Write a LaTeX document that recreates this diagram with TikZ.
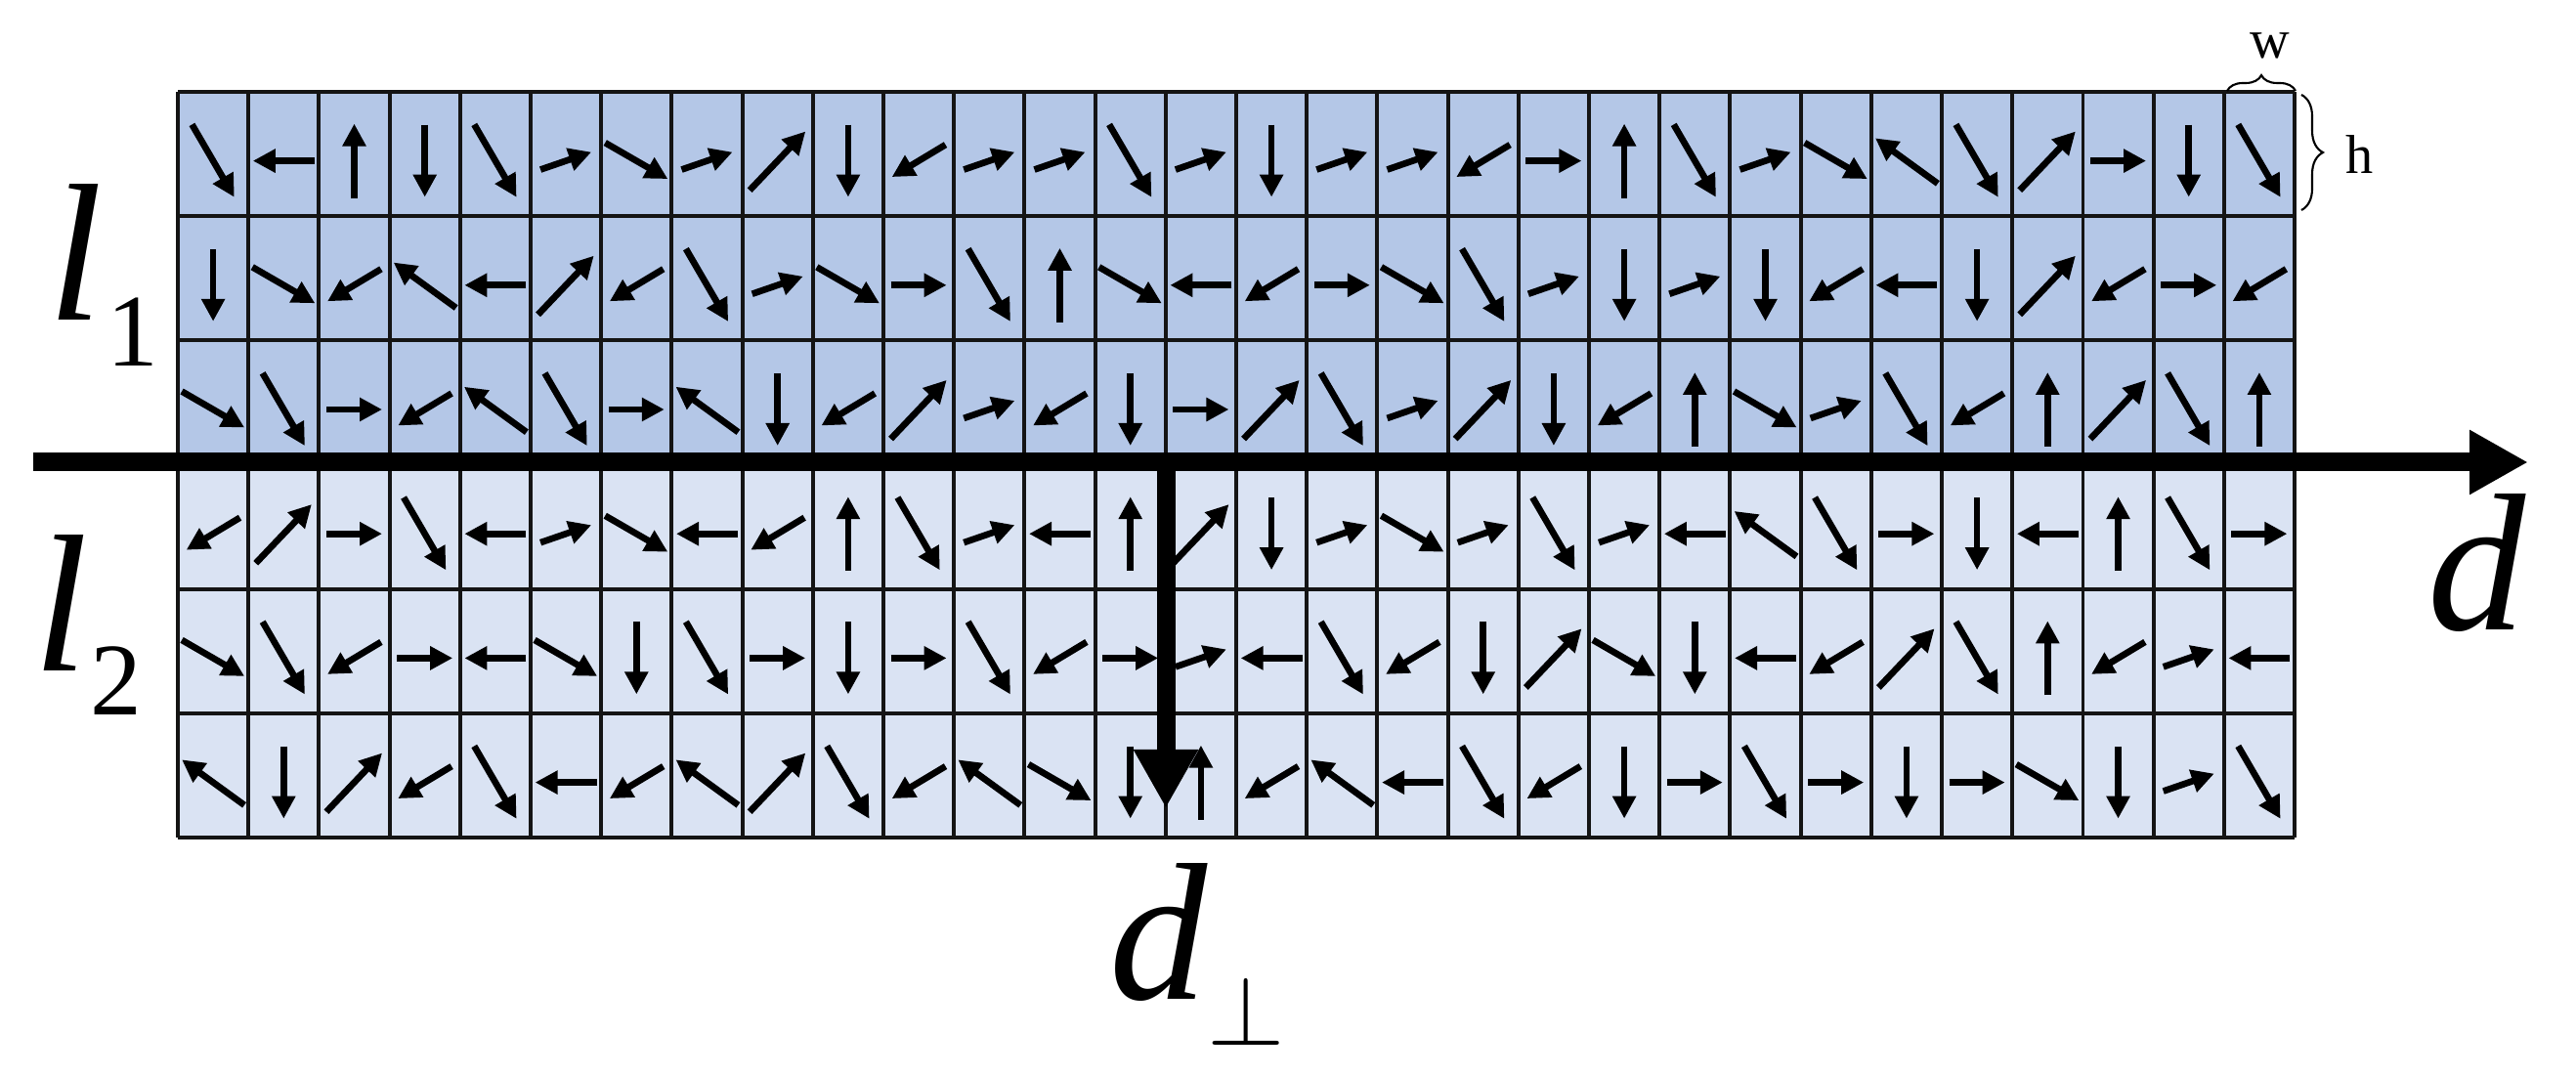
\documentclass[tikz,border=0pt]{standalone}
\usepackage{fix-cm}
\usepackage{fontspec}
\setmainfont{Liberation Serif}
\usetikzlibrary{arrows.meta}
\usetikzlibrary{positioning}
\usetikzlibrary{decorations.pathreplacing}

\definecolor{upperblue}{RGB}{180,199,231}
\definecolor{lowerblue}{RGB}{218,227,243}

% spin kinds: angle (deg) and length (cm)
\def\angD{-90}   \def\lenD{0.74}
\def\angU{90}    \def\lenU{0.76}
\def\angS{-59.8} \def\lenS{0.86}
\def\angR{-30}   \def\lenR{0.74}
\def\angW{180}   \def\lenW{0.63}
\def\angE{0}     \def\lenE{0.57}
\def\angQ{19}    \def\lenQ{0.55}
\def\angN{46.5}  \def\lenN{0.83}
\def\angL{211}   \def\lenL{0.64}
\def\angK{144}   \def\lenK{0.79}

\newcommand{\spinRow}[2]{%
  \foreach \t [count=\c] in {#2} {
    \pgfmathsetmacro{\cx}{1.82+0.722*(\c-0.5)}
    \pgfmathsetmacro{\cy}{10.06-1.272*(#1-0.5)-0.07}
    \edef\sang{\csname ang\t\endcsname}
    \edef\slen{\csname len\t\endcsname}
    \draw[spin,shift={(\cx,\cy)},rotate=\sang,xscale=\slen] (-0.5,0) -- (0.5,0);
  }}

\begin{document}
\begin{tikzpicture}[spin/.style={line width=1.9pt,-{Triangle[length=0.23cm,width=0.23cm]}},
                    bigaxis/.style={line width=0.19cm,-{Triangle[length=0.6cm,width=0.62cm]}},
                    cellgrid/.style={draw=black!92,line width=1.1pt},
                    sizebrace/.style={decorate,line width=0.6pt}]
\useasboundingbox (0,0) rectangle (26.36,11);

% layers
\fill[upperblue] (1.82,10.06) rectangle (23.48,6.244);
\fill[lowerblue] (1.82,6.244) rectangle (23.48,2.43);
\draw[cellgrid,shift={(1.82,2.43)}] (0,0) grid[xstep=0.722,ystep=1.272] (21.661,7.633);

% spins, row by row
\spinRow{1}{S,W,U,D,S,Q,R,Q,N,D,L,Q,Q,S,Q,D,Q,Q,L,E,U,S,Q,R,K,S,N,E,D,S}
\spinRow{2}{D,R,L,K,W,N,L,S,Q,R,E,S,U,R,W,L,E,R,S,Q,D,Q,D,L,W,D,N,L,E,L}
\spinRow{3}{R,S,E,L,K,S,E,K,D,L,N,Q,L,D,E,N,S,Q,N,D,L,U,R,Q,S,L,U,N,S,U}
\spinRow{4}{L,N,E,S,W,Q,R,W,L,U,S,Q,W,U,N,D,Q,R,Q,S,Q,W,K,S,E,D,W,U,S,E}
\spinRow{5}{R,S,L,E,W,R,D,S,E,D,E,S,L,E,Q,W,S,L,D,N,R,D,W,L,N,S,U,L,Q,W}
\spinRow{6}{K,D,N,L,S,W,L,K,N,S,L,K,R,D,U,L,K,W,S,L,D,E,S,E,D,E,R,D,Q,S}

% axes
\coordinate (dstart) at (0.34,6.27);
\coordinate (dend) at (25.87,6.27);
\coordinate (dperpstart) at (11.93,6.27);
\coordinate (dperpend) at (11.93,2.73);
\draw[bigaxis] (dstart) -- (dend);
\draw[bigaxis] (dperpstart) -- (dperpend);

% w and h
\coordinate (wleft) at (22.79,10.07);
\coordinate (wright) at (23.49,10.07);
\coordinate (htop) at (23.55,10.03);
\coordinate (hbottom) at (23.55,8.85);
\draw[sizebrace,decoration={brace,amplitude=0.16cm}] (wleft) -- (wright);
\draw[sizebrace,decoration={brace,amplitude=0.22cm}] (htop) -- (hbottom);

\begin{scope}[every node/.style={inner sep=0}]
    \node[anchor=base] (wlabel) at (23.23,10.40) {\fontsize{16}{16}\selectfont w};
    \node[anchor=base] (hlabel) at (24.15,9.22)  {\fontsize{16}{16}\selectfont h};
    \node[anchor=base west] (lone) at (0.49,7.72)
        {\fontsize{57}{60}\selectfont\itshape l\kern0.04cm\raisebox{-0.47cm}{\upshape\fontsize{30}{30}\selectfont 1}};
    \node[anchor=base west] (ltwo) at (0.34,4.13)
        {\fontsize{57}{60}\selectfont\itshape l\kern0.02cm\raisebox{-0.45cm}{\upshape\fontsize{30}{30}\selectfont 2}};
    \node[anchor=base west] (dlabel) at (24.84,4.55) {\fontsize{57}{60}\selectfont\itshape d};
    \node[anchor=base west] (dperplabel) at (11.35,0.77)
        {\fontsize{57}{60}\selectfont\itshape d\raisebox{-0.47cm}{\fontsize{29}{29}\selectfont$\perp$}};
\end{scope}
\end{tikzpicture}
\end{document}
